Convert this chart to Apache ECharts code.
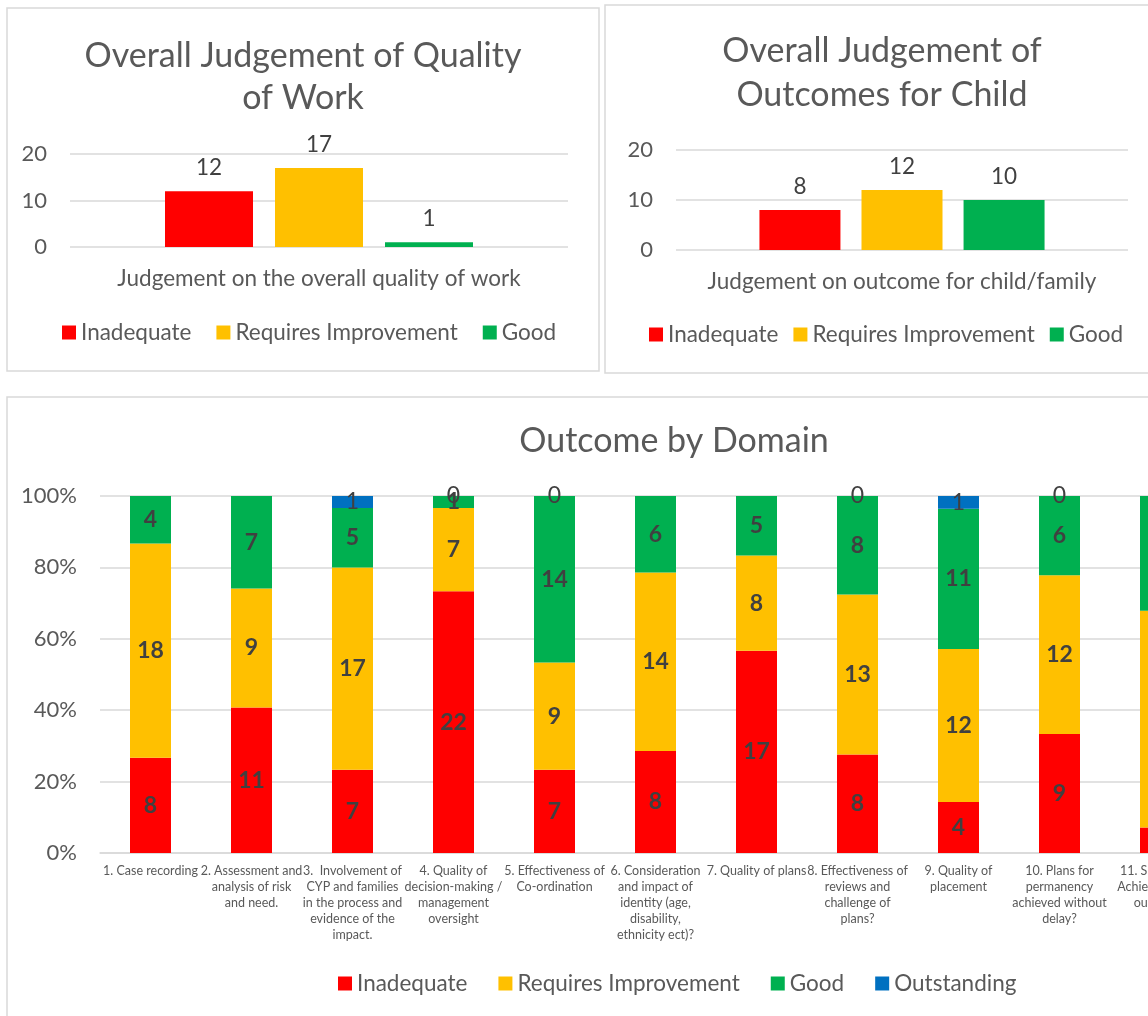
<!DOCTYPE html>
<html><head><meta charset="utf-8">
<script src="https://cdn.jsdelivr.net/npm/echarts@6/dist/echarts.min.js"></script>
<style>html,body{margin:0;padding:0;background:#fff;overflow:hidden;width:1148px;height:1016px}#c{width:1340px;height:1016px}</style>
</head><body><div id="c"></div>
<script>
// ---------- data ----------
const ratingNames3 = ['Inadequate', 'Requires Improvement', 'Good'];
const ratingNames4 = ['Inadequate', 'Requires Improvement', 'Good', 'Outstanding'];
const ratingColors = ['#FF0000', '#FFC000', '#00B050', '#0070C0'];

const qualityTitle = 'Overall Judgement of Quality\nof Work';
const qualityCategory = ['Judgement on the overall quality of work'];
const qualityValues = [12, 17, 1];

const outcomeTitle = 'Overall Judgement of\nOutcomes for Child';
const outcomeCategory = ['Judgement on outcome for child/family'];
const outcomeValues = [8, 12, 10];

const domainTitle = 'Outcome by Domain';
const domainCategories = [
  '1. Case recording',
  '2. Assessment and\nanalysis of risk\nand need.',
  '3.  Involvement of\nCYP and families\nin the process and\nevidence of the\nimpact.',
  '4. Quality of\ndecision-making /\nmanagement\noversight',
  '5. Effectiveness of\nCo-ordination',
  '6. Consideration\nand impact of\nidentity (age,\ndisability,\nethnicity ect)?',
  '7. Quality of plans',
  '8. Effectiveness of\nreviews and\nchallenge of\nplans?',
  '9. Quality of\nplacement',
  '10. Plans for\npermanency\nachieved without\ndelay?',
  '11. Supporting\nAchievement of\noutcomes'
];
const domainInadequate          = [8, 11, 7, 22, 7, 8, 17, 8, 4, 9, 2];
const domainRequiresImprovement = [18, 9, 17, 7, 9, 14, 8, 13, 12, 12, 17];
const domainGood                = [4, 7, 5, 1, 14, 6, 5, 8, 11, 6, 9];
const domainOutstanding         = [null, null, 1, 0, 0, null, null, 0, 1, 0, null];

const countTickInterval = 10;
const countMax = 20;
const pctTickInterval = 20;
const pctMax = 100;

// ---------- chart ----------
const FONT = 'Lato';
const TXT = '#595959';
const LBL = '#404040';
const GRID = '#d9d9d9';

const chart = echarts.init(document.getElementById('c'));

const domainRaw = [domainInadequate, domainRequiresImprovement, domainGood, domainOutstanding];
const domainTotals = domainCategories.map((_, i) =>
  domainRaw.reduce((s, arr) => s + (arr[i] == null ? 0 : arr[i]), 0));

function countYAxis(gi) {
  return {
    type: 'value', gridIndex: gi, min: 0, max: countMax, interval: countTickInterval,
    axisLine: {show: false}, axisTick: {show: false},
    axisLabel: {color: TXT, fontSize: 22, fontFamily: FONT, margin: 23},
    splitLine: {lineStyle: {color: GRID, width: 1.5}}
  };
}
function singleXAxis(gi, cats) {
  return {
    type: 'category', gridIndex: gi, data: cats,
    axisLine: {show: false}, axisTick: {show: false},
    axisLabel: {color: TXT, fontSize: 22.5, fontFamily: FONT, margin: 20}
  };
}
function legendAt(left, top, names, gap) {
  return {
    left: left, top: top, data: names, icon: 'rect', itemWidth: 14, itemHeight: 14,
    itemGap: gap, selectedMode: false, padding: 0,
    textStyle: {color: TXT, fontSize: 22.5, fontFamily: FONT}
  };
}

const series = [];
ratingNames3.forEach((n, k) => {
  series.push({
    type: 'bar', name: n, xAxisIndex: 0, yAxisIndex: 0, data: [qualityValues[k]],
    barWidth: 88, barGap: '25%', itemStyle: {color: ratingColors[k]},
    label: {show: true, position: 'top', distance: 12, color: LBL, fontSize: 22.5, fontFamily: FONT}
  });
});
ratingNames3.forEach((n, k) => {
  series.push({
    type: 'bar', name: n, xAxisIndex: 1, yAxisIndex: 1, data: [outcomeValues[k]],
    barWidth: 81, barGap: '26%', itemStyle: {color: ratingColors[k]},
    label: {show: true, position: 'top', distance: 12, color: LBL, fontSize: 22.5, fontFamily: FONT}
  });
});
ratingNames4.forEach((n, k) => {
  const raw = domainRaw[k];
  series.push({
    type: 'bar', name: n, xAxisIndex: 2, yAxisIndex: 2, stack: 'domain',
    barWidth: 41, itemStyle: {color: ratingColors[k]},
    data: raw.map((v, i) => v == null ? null : v / domainTotals[i] * 100),
    label: {
      show: true, position: 'inside', color: LBL, fontSize: 23, fontFamily: FONT,
      fontWeight: k === 3 ? 'normal' : 'bold',
      formatter: p => raw[p.dataIndex] == null ? '' : String(raw[p.dataIndex])
    }
  });
});

const option = {
  animation: false,
  backgroundColor: '#fff',
  textStyle: {fontFamily: FONT},
  graphic: [
    {type: 'rect', shape: {x: 7, y: 8, width: 592, height: 363}, style: {fill: 'none', stroke: GRID, lineWidth: 1.5}},
    {type: 'rect', shape: {x: 605, y: 5, width: 560, height: 368}, style: {fill: 'none', stroke: GRID, lineWidth: 1.5}},
    {type: 'rect', shape: {x: 7, y: 397, width: 1320, height: 700}, style: {fill: 'none', stroke: GRID, lineWidth: 1.5}}
  ],
  title: [
    {text: qualityTitle, left: 298, top: 30, textAlign: 'center',
     textStyle: {color: TXT, fontSize: 34, fontWeight: 'normal', fontFamily: FONT, lineHeight: 42}},
    {text: outcomeTitle, left: 877, top: 24, textAlign: 'center',
     textStyle: {color: TXT, fontSize: 34, fontWeight: 'normal', fontFamily: FONT, lineHeight: 44}},
    {text: domainTitle, left: 669, top: 419, textAlign: 'center',
     textStyle: {color: TXT, fontSize: 34, fontWeight: 'normal', fontFamily: FONT}}
  ],
  legend: [
    legendAt(62, 321, ratingNames3, 25),
    legendAt(649, 323, ratingNames3, 15),
    legendAt(338, 972, ratingNames4, 31)
  ],
  grid: [
    {left: 70, top: 154, width: 498, height: 93},
    {left: 676, top: 150, width: 452, height: 100},
    {left: 100, top: 496, width: 1111, height: 357}
  ],
  xAxis: [
    singleXAxis(0, qualityCategory),
    singleXAxis(1, outcomeCategory),
    {
      type: 'category', gridIndex: 2, data: domainCategories,
      axisLine: {show: true, lineStyle: {color: GRID, width: 1.5}}, axisTick: {show: false},
      axisLabel: {color: TXT, fontSize: 12.5, fontFamily: FONT, margin: 10, interval: 0,
                  lineHeight: 16, align: 'center'}
    }
  ],
  yAxis: [
    countYAxis(0),
    countYAxis(1),
    {
      type: 'value', gridIndex: 2, min: 0, max: pctMax, interval: pctTickInterval,
      axisLine: {show: false}, axisTick: {show: false},
      axisLabel: {color: TXT, fontSize: 22, fontFamily: FONT, margin: 23, formatter: '{value}%'},
      splitLine: {lineStyle: {color: GRID, width: 1.5}}
    }
  ],
  series: series
};
chart.setOption(option);
</script>
</body></html>
